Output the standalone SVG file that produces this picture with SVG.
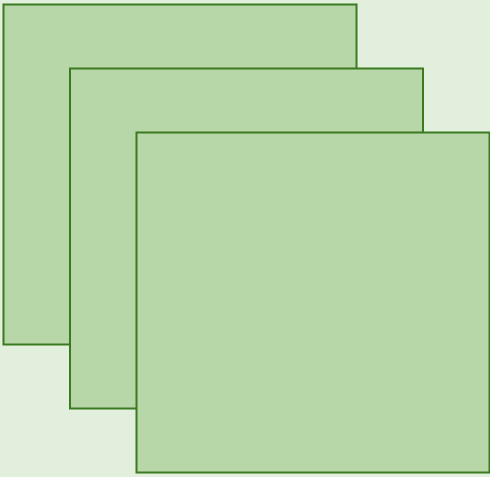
<svg xmlns="http://www.w3.org/2000/svg" width="490" height="477" viewBox="0 0 490 477">
<style>
.sheet{fill:#b7d7a8;stroke:#3b7a20;stroke-width:2}
</style>
<rect x="0" y="0" width="490" height="477" fill="#e2efdc"/>
<g id="sheet1"><rect class="sheet" x="3.5" y="4.5" width="353" height="340"/></g>
<g id="sheet2"><rect class="sheet" x="70" y="68.5" width="353" height="340"/></g>
<g id="sheet3"><rect class="sheet" x="136.5" y="132.5" width="353" height="340"/></g>
<g id="connectors"></g>
</svg>
